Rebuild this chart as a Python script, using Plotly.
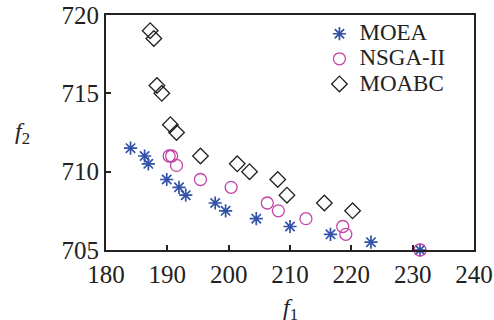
import plotly.graph_objects as go

moea_x = [184, 186.3, 186.9, 189.9, 191.9, 193, 197.8, 199.5, 204.5, 210, 216.6, 223.2, 231.2]
moea_y = [711.5, 711, 710.5, 709.5, 709, 708.5, 708, 707.5, 707, 706.5, 706, 705.5, 705]
nsga_x = [190.3, 190.7, 191.5, 195.4, 200.4, 206.3, 208.1, 212.6, 218.6, 219.1, 231.2]
nsga_y = [711, 711, 710.4, 709.5, 709, 708, 707.5, 707, 706.5, 706, 705]
moabc_x = [187.2, 187.8, 188.3, 189.1, 190.5, 191.5, 195.4, 201.4, 203.4, 208, 209.5, 215.6, 220.2]
moabc_y = [719, 718.5, 715.5, 715, 713, 712.5, 711, 710.5, 710, 709.5, 708.5, 708, 707.5]

series_names = ["MOEA", "NSGA-II", "MOABC"]
x_ticks = [180, 190, 200, 210, 220, 230, 240]
y_ticks = [705, 710, 715, 720]

FONT = "Liberation Serif"
BLUE = "#3152a6"
MAG = "#c244a6"
INK = "#222222"


def legend_label(s):
    return '<span style="font-size:23px">' + s + "</span>"


fig = go.Figure()
fig.add_trace(go.Scatter(x=moea_x, y=moea_y, mode="markers", name=legend_label(series_names[0]),
                         marker=dict(symbol="asterisk-open", size=11, color=BLUE,
                                     line=dict(color=BLUE, width=1.7)),
                         cliponaxis=False))
fig.add_trace(go.Scatter(x=nsga_x, y=nsga_y, mode="markers", name=legend_label(series_names[1]),
                         marker=dict(symbol="circle-open", size=12, color=MAG,
                                     line=dict(color=MAG, width=1.3)),
                         cliponaxis=False))
fig.add_trace(go.Scatter(x=moabc_x, y=moabc_y, mode="markers", name=legend_label(series_names[2]),
                         marker=dict(symbol="diamond-open", size=12, color=INK,
                                     line=dict(color=INK, width=1.3)),
                         cliponaxis=False))

axis_common = dict(showgrid=False, zeroline=False, showline=True, linecolor=INK,
                   linewidth=2, mirror=True, ticks="inside", ticklen=5, tickwidth=1.5,
                   tickcolor=INK, tickfont=dict(family=FONT, size=25, color=INK),
                   automargin=False, ticklabeloverflow="allow")

# plot area in window pixels: x 106-474, y 15-250
L, T, W, H = 106, 15, 368, 235
fig.update_layout(
    width=494, height=320,
    margin=dict(l=L, r=494 - L - W, t=T, b=320 - T - H, autoexpand=False),
    paper_bgcolor="white", plot_bgcolor="white",
    xaxis=dict(range=[180, 240], tickvals=x_ticks, ticklabelstandoff=1, **axis_common),
    yaxis=dict(range=[705, 720], tickvals=y_ticks, **axis_common),
    showlegend=True,
    legend=dict(x=0.58, y=0.995, xanchor="left", yanchor="top", bgcolor="rgba(0,0,0,0)",
                font=dict(family=FONT, size=17, color=INK), tracegroupgap=0,
                itemwidth=30),
    annotations=[
        dict(text="<i>f</i><sub>1</sub>", x=(290 - L) / W, y=(T + H - 309) / H,
             xref="paper", yref="paper", xanchor="center", yanchor="middle",
             showarrow=False, font=dict(family=FONT, size=24, color=INK)),
        dict(text="<i>f</i><sub>2</sub>", x=(22 - L) / W, y=(T + H - 133) / H,
             xref="paper", yref="paper", xanchor="center", yanchor="middle",
             showarrow=False, font=dict(family=FONT, size=24, color=INK)),
    ],
)

fig.write_html("out.html", config={"displayModeBar": False},
               post_script="document.body.style.margin='0';")
